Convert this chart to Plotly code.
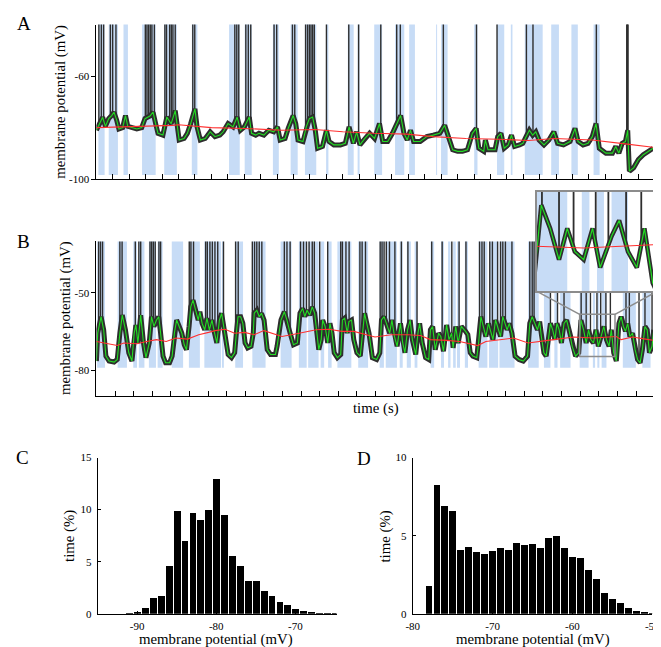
import numpy as np
import plotly.graph_objects as go

# ---------------- data ----------------
# Panel A: membrane potential trace (time s, mV)
a_t = [0.00, 0.20, 0.38, 0.55, 0.75, 0.93, 1.07, 1.23, 1.37, 1.60, 1.77, 1.91, 2.17, 2.46, 2.76, 2.96,
       3.26, 3.45, 3.61, 3.75, 4.05, 4.29, 4.55, 4.80, 4.94, 5.04, 5.34, 5.54, 5.74, 6.00, 6.13, 6.33,
       6.63, 6.93, 7.22, 7.52, 7.72, 8.02, 8.32, 8.57, 8.77, 9.01, 9.31, 9.45, 9.70, 9.90, 10.20, 10.50,
       10.80, 11.03, 11.19, 11.49, 11.68, 11.98, 12.14, 12.28, 12.58, 12.78, 12.97, 13.17, 13.33, 13.47,
       13.77, 14.01, 14.17, 14.46, 14.86, 15.16, 15.39, 15.65, 15.85, 16.05, 16.35, 16.64, 16.94, 17.24,
       17.44, 17.74, 18.03, 18.33, 18.53, 18.73, 18.93, 19.13, 19.32, 19.72, 20.12, 20.51, 20.91, 21.21,
       21.41, 21.70, 22.00, 22.30, 22.60, 22.90, 23.13, 23.29, 23.59, 23.69, 23.85, 24.28, 24.44, 24.64,
       24.84, 25.08, 25.28, 25.47, 25.77, 25.97, 26.17, 26.37, 26.57, 26.76, 26.96, 27.26, 27.56, 27.86,
       28.09, 28.45, 28.85, 29.15, 29.34, 29.64, 29.94, 30.20, 30.43, 30.63, 31.03, 31.43, 31.63, 31.82,
       32.02, 32.22, 32.36, 32.46, 32.72, 33.01, 33.31, 33.61, 33.91]
a_v = [-81.0, -78.5, -76.0, -79.5, -76.5, -75.3, -74.0, -77.0, -80.5, -80.0, -75.3, -79.5, -80.0, -80.5, -80.0, -76.5,
       -75.5, -74.0, -78.5, -82.2, -82.9, -75.9, -78.5, -73.4, -80.0, -84.8, -84.2, -82.2, -78.5, -72.7, -79.7, -84.8,
       -84.2, -81.6, -83.5, -82.9, -81.6, -78.4, -79.7, -75.9, -81.0, -79.7, -75.9, -82.2, -82.9, -82.2, -82.9, -81.0,
       -81.6, -79.7, -84.8, -84.2, -80.3, -75.3, -78.4, -84.8, -85.4, -79.7, -76.5, -75.9, -81.0, -88.0,
       -87.3, -81.0, -85.4, -86.7, -86.7, -86.1, -79.7, -86.1, -81.6, -86.7, -84.2, -82.2, -84.2, -78.4,
       -85.4, -85.4, -82.2, -78.4, -75.3, -82.2, -84.8, -81.0, -85.4, -85.4, -83.5, -82.9, -82.2, -79.1,
       -82.9, -88.6, -89.2, -89.2, -88.6, -82.2, -80.3, -88.0, -89.2, -84.8, -88.6, -88.6, -83.5, -82.2,
       -88.0, -86.7, -82.9, -87.3, -86.7, -86.1, -83.5, -81.0, -82.9, -81.6, -84.8, -86.7, -84.8, -81.6,
       -86.1, -86.7, -85.4, -80.3, -85.4, -86.7, -86.1, -83.5, -78.4, -88.0, -89.9, -89.9, -87.3, -89.9,
       -86.1, -85.4, -81.0, -96.9, -95.6, -92.4, -90.5, -89.2, -88.0]
a_trend_t = [0.0, 2.0, 4.65, 5.0, 7.0, 9.0, 11.3, 13.3, 15.0, 16.9, 18.9, 20.5, 22.5, 24.5, 26.3, 27.9, 30.2, 32.2, 33.9]
a_trend_v = [-80.0, -79.7, -79.1, -78.9, -80.0, -80.3, -81.0, -80.7, -81.6, -82.2, -82.5, -83.5, -84.2, -84.5,
             -85.0, -84.2, -84.8, -86.3, -87.6]
a_spikes = [0.15, 0.30, 0.44, 0.85, 0.99, 1.19, 2.98, 3.08, 3.18, 3.28, 3.38, 3.53, 4.17, 4.27, 4.46, 4.56,
            4.66, 4.80, 5.87, 5.99, 8.43, 8.55, 8.67, 9.10, 9.25, 9.40, 10.82, 10.98, 11.94, 12.08, 12.74,
            12.86, 12.97, 13.07, 13.17, 13.27, 14.01, 15.37, 15.97, 17.32, 18.29, 18.51, 21.13, 23.15, 24.40,
            26.19, 26.59, 30.45, 32.30, 32.34, 32.38]
a_up_start = [0.12, 0.75, 1.65, 2.78, 4.13, 5.81, 8.08, 9.03, 10.75, 11.83, 12.70, 13.99, 15.31, 15.91, 16.92,
              18.19, 19.05, 20.69, 20.99, 23.01, 24.40, 25.24, 26.09, 27.70, 28.93, 30.28]
a_up_end = [0.50, 1.31, 1.92, 3.61, 4.90, 6.15, 8.73, 9.46, 11.11, 12.26, 13.39, 14.13, 15.67, 16.03, 17.40,
            18.75, 19.40, 20.75, 21.39, 23.21, 24.84, 25.34, 27.18, 28.17, 29.32, 30.65]

# Panel B
b_t = [0.00, 0.07, 0.25, 0.39, 0.51, 0.68, 0.95, 1.12, 1.26, 1.39, 1.56, 1.74, 1.91, 2.03, 2.12, 2.23,
       2.38, 2.53, 2.66, 2.84, 2.96, 3.09, 3.23, 3.35, 3.45, 3.58, 3.72, 3.93, 4.07, 4.19, 4.31, 4.45,
       4.59, 4.72, 4.84, 4.98, 5.07, 5.19, 5.33, 5.47, 5.56, 5.68, 5.82, 5.94, 6.07, 6.21, 6.35, 6.47,
       6.61, 6.73, 6.87, 6.99, 7.08, 7.26, 7.43, 7.52, 7.61, 7.75, 7.87, 7.99, 8.13, 8.31, 8.43, 8.48,
       8.62, 8.75, 8.87, 9.01, 9.10, 9.18, 9.36, 9.62, 9.71, 9.92, 10.10, 10.24, 10.41, 10.59, 10.80,
       10.94, 11.08, 11.20, 11.32, 11.46, 11.60, 11.73, 11.85, 11.95, 12.08, 12.16, 12.29, 12.43, 12.55,
       12.66, 12.78, 12.95, 13.13, 13.22, 13.34, 13.48, 13.57, 13.71, 13.83, 14.00, 14.18, 14.30, 14.41,
       14.53, 14.65, 14.83, 15.06, 15.23, 15.32, 15.46, 15.58, 15.76, 15.88, 16.02, 16.16, 16.34, 16.46,
       16.58, 16.72, 16.86, 16.98, 17.16, 17.28, 17.37, 17.51, 17.69, 17.86, 17.95, 18.07, 18.21, 18.39,
       18.51, 18.65, 18.82, 18.95, 19.09, 19.17, 19.31, 19.44, 19.61, 19.84, 19.96, 20.09, 20.23, 20.44,
       20.54, 20.66, 20.79, 20.93, 21.07, 21.19, 21.31, 21.45, 21.59, 21.72, 21.84, 21.94, 22.07, 22.19,
       22.33, 22.50, 22.71, 22.94, 23.17, 23.29, 23.42, 23.56, 23.70, 23.82, 23.91, 24.05, 24.17, 24.29,
       24.40, 24.52, 24.64, 24.75, 24.87, 24.99, 25.13, 25.27, 25.40, 25.57, 25.75, 25.92, 26.04, 26.18,
       26.32, 26.45, 26.57, 26.71, 26.85, 26.97, 27.15, 27.27, 27.41, 27.55, 27.67, 27.80, 27.94, 28.08,
       28.20, 28.32, 28.43, 28.55, 28.67, 28.81, 28.95, 29.08, 29.22, 29.34, 29.48, 29.60, 29.72, 29.86,
       29.95]
b_v = [-76.4, -65.6, -59.2, -64.3, -74.5, -76.4, -76.8, -75.8, -65.6, -58.6, -64.3, -73.2, -76.4, -65.6, -62.4, -69.4,
       -58.6, -69.4, -75.1, -69.4, -59.2, -63.0, -60.5, -59.2, -65.6, -74.5, -77.1, -77.1, -74.5, -65.6, -60.5, -63.0,
       -65.6, -70.1, -72.0, -63.0, -55.4, -52.8, -56.7, -60.5, -57.3, -61.8, -64.3, -59.8, -64.3, -60.5, -65.6, -69.4,
       -60.5, -57.9, -64.3, -70.7, -73.9, -75.1, -73.2, -65.6, -59.2, -59.2, -61.8, -69.4, -71.3, -70.7, -65.6, -57.9,
       -56.7, -59.2, -57.9, -60.5, -68.1, -72.0, -73.9, -73.9, -70.7, -60.5, -57.3, -60.5, -65.6, -70.1, -69.4,
       -57.9, -56.0, -59.2, -56.7, -58.6, -55.4, -57.9, -65.6, -72.0, -68.1, -60.5, -63.0, -69.4, -61.8,
       -65.6, -73.2, -75.1, -73.9, -60.5, -59.8, -65.6, -61.1, -60.5, -68.1, -73.2, -74.5, -66.9, -57.9,
       -61.8, -65.6, -75.1, -75.8, -73.2, -60.5, -59.2, -61.8, -65.6, -60.5, -66.9, -70.7, -61.8, -69.4,
       -73.2, -64.3, -60.5, -68.1, -73.9, -65.6, -61.8, -69.4, -75.1, -75.8, -64.3, -63.0, -72.0, -65.6,
       -66.9, -72.6, -62.4, -68.1, -65.6, -71.3, -63.0, -69.4, -63.0, -64.9, -66.2, -73.2, -74.5, -75.1,
       -69.4, -59.2, -63.0, -66.9, -61.8, -64.9, -68.1, -60.5, -64.3, -66.9, -59.2, -61.8, -64.3, -61.8,
       -65.6, -74.5, -75.8, -76.4, -74.5, -61.8, -59.2, -61.8, -64.3, -61.1, -66.9, -73.2, -74.5, -68.1,
       -61.8, -64.3, -68.1, -61.8, -64.3, -69.4, -61.8, -60.5, -64.3, -70.7, -74.5, -73.2, -60.5, -64.3,
       -69.4, -64.3, -68.1, -69.4, -64.3, -70.7, -65.6, -63.0, -68.1, -70.7, -64.3, -73.2, -76.4, -61.8,
       -59.2, -63.0, -64.9, -61.8, -66.9, -65.6, -72.0, -75.8, -77.1, -72.0, -63.0, -64.3, -73.2, -70.7,
       -64.3]
b_trend_t = [0.0, 1.12, 1.47, 2.18, 2.70, 3.23, 3.75, 4.28, 4.89, 5.50, 6.03, 6.38, 6.91, 7.43, 7.96, 8.48,
             9.00, 9.97, 10.76, 11.81, 12.50, 13.20, 13.83, 14.27, 14.97, 15.85, 16.72, 17.42, 17.95, 18.82,
             19.52, 20.49, 20.93, 22.42, 23.20, 24.26, 25.66, 26.71, 27.94, 28.20, 28.81, 29.51, 29.95]
b_trend_v = [-68.8, -70.4, -69.4, -69.7, -68.8, -68.1, -68.8, -67.5, -67.9, -66.2, -65.3, -64.6, -64.1, -65.6,
             -65.3, -66.2, -64.6, -66.9, -65.8, -64.3, -64.1, -64.9, -64.9, -65.8, -67.1, -66.2, -66.2, -66.5,
             -68.1, -68.4, -68.8, -70.4, -68.8, -67.5, -69.4, -68.4, -67.1, -67.5, -66.9, -68.1, -67.1, -67.9,
             -68.4]
b_spikes = [0.12, 0.22, 0.33, 1.26, 1.38, 2.09, 2.28, 2.38, 2.88, 2.97, 3.06, 3.16, 3.36, 3.45, 4.99, 5.08,
            5.22, 5.87, 5.96, 6.10, 6.23, 6.37, 6.52, 6.83, 7.48, 7.62, 8.38, 8.50, 8.62, 8.75, 8.89, 10.10,
            10.24, 10.41, 10.97, 11.13, 11.29, 11.43, 11.60, 11.71, 12.00, 12.43, 13.13, 13.22, 13.41, 13.58,
            14.16, 14.28, 14.46, 15.25, 15.35, 15.46, 15.58, 15.75, 16.04, 16.39, 16.74, 17.23, 18.02, 18.58,
            19.10, 19.49, 19.86, 20.59, 20.72, 20.84, 21.14, 21.28, 21.56, 21.72, 21.84, 21.98, 22.33, 23.29,
            23.42, 23.52, 24.40, 24.78, 25.13, 26.05, 26.32, 26.55, 26.90, 27.10, 27.38, 27.62, 28.46, 28.64,
            29.16, 29.48, 29.86]
b_up_start = [0.04, 1.14, 1.98, 2.28, 2.82, 3.29, 4.05, 4.97, 5.80, 6.75, 7.46, 8.38, 9.90, 10.88, 11.38,
              12.05, 12.45, 12.95, 14.07, 15.22, 15.55, 16.30, 16.68, 17.10, 17.96, 18.52, 18.90, 19.17,
              19.38, 19.80, 20.54, 21.10, 21.66, 23.20, 24.05, 24.61, 24.92, 25.97, 26.68, 26.92, 27.15,
              28.29, 29.34]
b_up_end = [0.46, 1.64, 2.18, 2.58, 3.20, 3.56, 4.66, 5.56, 6.70, 6.85, 7.88, 9.09, 10.49, 11.30, 11.94,
            12.24, 12.64, 13.70, 14.60, 15.45, 16.15, 16.46, 16.90, 17.25, 18.15, 18.68, 19.03, 19.31,
            19.54, 19.97, 21.01, 21.59, 22.47, 23.77, 24.40, 24.78, 25.48, 26.45, 26.80, 27.03, 27.41,
            28.99, 29.78]

# Panel C / D histograms (bin centre mV, % of time)
c_bins = [-91, -90, -89, -88, -87, -86, -85, -84, -83, -82, -81, -80, -79, -78, -77, -76, -75, -74, -73, -72,
          -71, -70, -69, -68, -67, -66, -65]
c_pct = [0.05, 0.15, 0.6, 1.5, 1.75, 4.6, 9.95, 7.0, 9.7, 9.05, 10.0, 13.0, 9.55, 5.6, 4.65, 3.2, 3.2, 2.2,
         1.7, 1.2, 0.85, 0.5, 0.28, 0.15, 0.1, 0.05, 0.03]
d_bins = [-78, -77, -76, -75, -74, -73, -72, -71, -70, -69, -68, -67, -66, -65, -64, -63, -62, -61, -60, -59,
          -58, -57, -56, -55, -54, -53, -52, -51, -50]
d_pct = [1.8, 8.3, 6.9, 6.6, 4.08, 4.27, 4.0, 3.87, 4.04, 4.25, 4.1, 4.53, 4.42, 4.48, 4.23, 4.88, 4.97, 4.25,
         3.68, 3.58, 2.82, 2.25, 1.37, 0.97, 0.74, 0.36, 0.21, 0.15, 0.08]

a_yticks = [-100, -60]
b_yticks = [-80, -50]
c_xticks = [-90, -80, -70]
c_yticks = [0, 5, 10, 15]
d_xticks = [-80, -70, -60, -50]
d_yticks = [0, 5, 10]

# ---------------- styling / layout ----------------
W, H = 661, 647
FONT = "Liberation Serif"
BLUE = "#c7dcf6"
GREEN = "#22dd22"
RED = "#ff3030"
DARK = "#2e2e2e"
GRAY = "#8c8c8c"
TITLE_SIZE = 14.8
TICK_SIZE = 11
LETTER_SIZE = 19


def fx(p):
    return p / W


def fy(p):
    return 1 - p / H


A_dom_x = [fx(83.3), fx(654.5)]
A_dom_y = [fy(168.3), fy(10.8)]
B_dom_y = [fy(389.3), fy(231.7)]
I_dom_x = [fx(534), fx(657)]
I_dom_y = [fy(282.7), fy(181)]
C_dom_x = [fx(84.5), fx(329)]
D_dom_x = [fx(407), fx(652)]
CD_dom_y = [fy(611), fy(452)]

A_range_y = [-100, -40]
B_range_y = [-90, -30]
A_range_x = [0, 34]
B_range_x = [0, 30]
I_range_x = [25.97, 27.87]
I_range_y = [-74.6, -58.3]

fig = go.Figure()


def rects(starts, ends, bot, top):
    xs, ys = [], []
    for s, e in zip(starts, ends):
        xs += [s, s, e, e, s, None]
        ys += [bot, top, top, bot, bot, None]
    return xs, ys


def spikes(times, t, v, top):
    base = np.interp(times, t, v)
    xs, ys = [], []
    for s, b in zip(times, base):
        xs += [s, s, None]
        ys += [b, top, None]
    return xs, ys


def add_trace_panel(t, v, tt, tv, sp, us, ue, bot, top, xa, ya, bw, sw, gw):
    rx, ry = rects(us, ue, bot, top + 50)
    fig.add_trace(go.Scatter(x=rx, y=ry, mode="lines", fill="toself", fillcolor=BLUE,
                             line=dict(width=0, color="rgba(0,0,0,0)"), hoverinfo="skip",
                             xaxis=xa, yaxis=ya, showlegend=False))
    fig.add_trace(go.Scatter(x=t, y=v, mode="lines", line=dict(color=DARK, width=bw),
                             xaxis=xa, yaxis=ya, showlegend=False))
    sx, sy = spikes(sp, t, v, top + 50)
    fig.add_trace(go.Scatter(x=sx, y=sy, mode="lines", line=dict(color=DARK, width=sw),
                             xaxis=xa, yaxis=ya, showlegend=False))
    fig.add_trace(go.Scatter(x=t, y=v, mode="lines", line=dict(color=GREEN, width=gw),
                             xaxis=xa, yaxis=ya, showlegend=False))
    fig.add_trace(go.Scatter(x=tt, y=tv, mode="lines", line=dict(color=RED, width=1.1),
                             xaxis=xa, yaxis=ya, showlegend=False))


add_trace_panel(a_t, a_v, a_trend_t, a_trend_v, a_spikes, a_up_start, a_up_end, -98.4, -40,
                "x", "y", 5.0, 1.4, 1.1)
add_trace_panel(b_t, b_v, b_trend_t, b_trend_v, b_spikes, b_up_start, b_up_end, -79.0, -30,
                "x2", "y2", 5.0, 1.4, 1.1)
add_trace_panel(b_t, b_v, b_trend_t, b_trend_v, b_spikes, b_up_start, b_up_end, -90.0, -30,
                "x3", "y3", 4.5, 1.8, 1.2)

fig.add_trace(go.Bar(x=c_bins, y=c_pct, width=0.86, marker=dict(color="black", line=dict(width=0)),
                     xaxis="x4", yaxis="y4", showlegend=False))
fig.add_trace(go.Bar(x=d_bins, y=d_pct, width=0.86, marker=dict(color="black", line=dict(width=0)),
                     xaxis="x5", yaxis="y5", showlegend=False))

tickfont = dict(family=FONT, size=TICK_SIZE, color="black")
base_axis = dict(showgrid=False, zeroline=False, showline=True, linecolor="black", linewidth=1,
                 tickcolor="black", tickfont=tickfont, fixedrange=True)


def trace_xaxis(dom, rng, anchor):
    return dict(base_axis, domain=dom, range=rng, anchor=anchor, tickmode="linear", tick0=0, dtick=1,
                ticks="inside", ticklen=5, showticklabels=False)


fig.update_layout(
    width=W, height=H, margin=dict(l=0, r=0, t=0, b=0),
    paper_bgcolor="white", plot_bgcolor="white",
    font=dict(family=FONT, color="black"),
    xaxis=trace_xaxis(A_dom_x, A_range_x, "y"),
    yaxis=dict(base_axis, domain=A_dom_y, range=A_range_y, anchor="x", tickvals=a_yticks,
               ticktext=[str(v) for v in a_yticks], ticks="outside", ticklen=4),
    xaxis2=trace_xaxis(A_dom_x, B_range_x, "y2"),
    yaxis2=dict(base_axis, domain=B_dom_y, range=B_range_y, anchor="x2", tickvals=b_yticks,
                ticktext=[str(v) for v in b_yticks], ticks="outside", ticklen=4),
    xaxis3=dict(domain=I_dom_x, range=I_range_x, anchor="y3", showgrid=False, zeroline=False,
                showline=True, mirror=True, linecolor=GRAY, linewidth=2, showticklabels=False,
                ticks="", fixedrange=True),
    yaxis3=dict(domain=I_dom_y, range=I_range_y, anchor="x3", showgrid=False, zeroline=False,
                showline=True, mirror=True, linecolor=GRAY, linewidth=2, showticklabels=False,
                ticks="", fixedrange=True),
    xaxis4=dict(base_axis, domain=C_dom_x, range=[-95, -64.8], anchor="y4", tickvals=c_xticks,
                ticktext=[str(v) for v in c_xticks], ticks="inside", ticklen=3, ticklabelstandoff=2),
    yaxis4=dict(base_axis, domain=CD_dom_y, range=[0, 15], anchor="x4", tickvals=c_yticks,
                ticktext=[str(v) for v in c_yticks], ticks="inside", ticklen=3, ticklabelstandoff=3),
    xaxis5=dict(base_axis, domain=D_dom_x, range=[-80, -50], anchor="y5", tickvals=d_xticks,
                ticktext=[str(v) for v in d_xticks], ticks="inside", ticklen=3, ticklabelstandoff=2),
    yaxis5=dict(base_axis, domain=CD_dom_y, range=[0, 10], anchor="x5", tickvals=d_yticks,
                ticktext=[str(v) for v in d_yticks], ticks="inside", ticklen=3, ticklabelstandoff=3),
    bargap=0,
)

# zoom box in B and connectors to the inset
fig.add_shape(type="rect", xref="x2", yref="y2", x0=I_range_x[0], x1=I_range_x[1],
              y0=I_range_y[0], y1=I_range_y[1], line=dict(color=GRAY, width=1.5), layer="above")


def b_to_paper(t, v):
    px = A_dom_x[0] + (t - B_range_x[0]) / (B_range_x[1] - B_range_x[0]) * (A_dom_x[1] - A_dom_x[0])
    py = B_dom_y[0] + (v - B_range_y[0]) / (B_range_y[1] - B_range_y[0]) * (B_dom_y[1] - B_dom_y[0])
    return px, py


for ix, bx in ((I_dom_x[0], I_range_x[0]), (I_dom_x[1], I_range_x[1])):
    px, py = b_to_paper(bx, I_range_y[1])
    fig.add_shape(type="line", xref="paper", yref="paper", x0=ix, y0=I_dom_y[0], x1=px, y1=py,
                  line=dict(color=GRAY, width=1.5), layer="above")


# text
def ann(text, x, y, size, angle=0):
    fig.add_annotation(text=text, x=fx(x), y=fy(y), xref="paper", yref="paper", showarrow=False,
                       xanchor="center", yanchor="middle", textangle=angle,
                       font=dict(family=FONT, size=size, color="black"))


ann("A", 9, 10, LETTER_SIZE)
ann("B", 9, 232, LETTER_SIZE)
ann("C", 8, 452, LETTER_SIZE)
ann("D", 357, 453, LETTER_SIZE)
ann("membrane potential (mV)", 47, 89.5, TITLE_SIZE, -90)
ann("membrane potential (mV)", 51, 310, TITLE_SIZE, -90)
ann("time (s)", 369, 402, TITLE_SIZE)
ann("time (%)", 55, 532, TITLE_SIZE, -90)
ann("time (%)", 379, 532, TITLE_SIZE, -90)
ann("membrane potential (mV)", 206, 637.5, TITLE_SIZE)
ann("membrane potential (mV)", 530, 637.5, TITLE_SIZE)

fig.write_html("out.html")
